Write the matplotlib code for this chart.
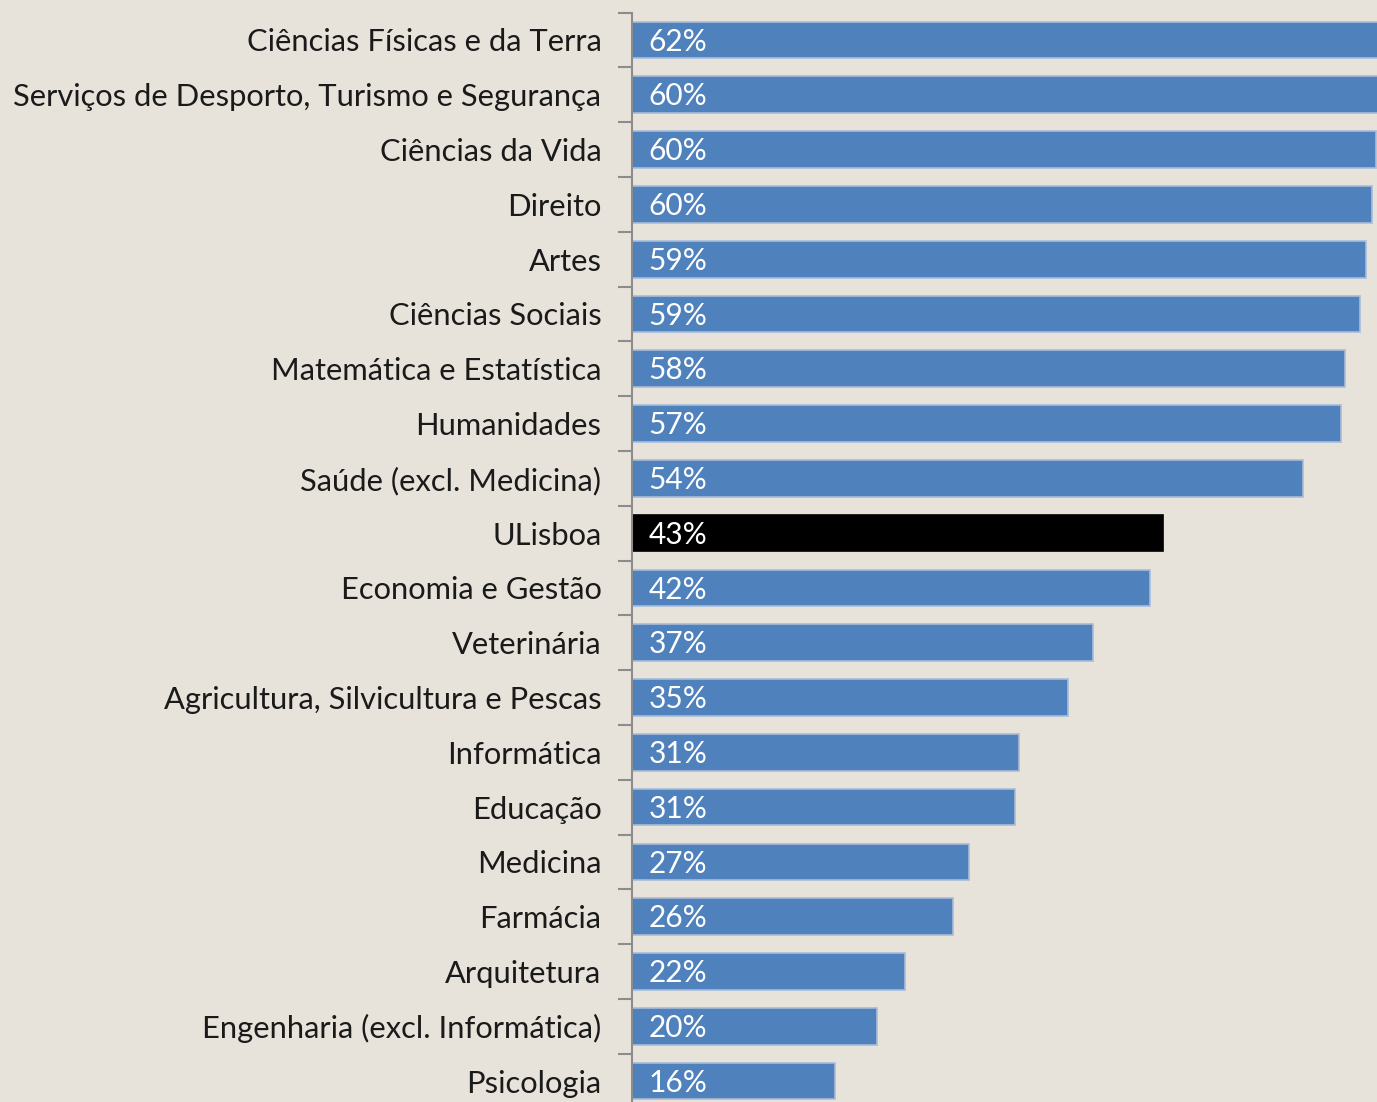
import numpy as np
import matplotlib.pyplot as plt

# categories, top to bottom
areas = ["Ciências Físicas e da Terra", "Serviços de Desporto, Turismo e Segurança",
         "Ciências da Vida", "Direito", "Artes", "Ciências Sociais",
         "Matemática e Estatística", "Humanidades", "Saúde (excl. Medicina)",
         "ULisboa", "Economia e Gestão", "Veterinária",
         "Agricultura, Silvicultura e Pescas", "Informática", "Educação",
         "Medicina", "Farmácia", "Arquitetura", "Engenharia (excl. Informática)",
         "Psicologia"]
values = [62.0, 60.5, 60.2, 59.9, 59.4, 58.9, 57.7, 57.4, 54.3, 43.0,
          41.9, 37.3, 35.3, 31.3, 31.0, 27.3, 26.0, 22.1, 19.8, 16.4]
labels = ["62%", "60%", "60%", "60%", "59%", "59%", "58%", "57%", "54%", "43%",
          "42%", "37%", "35%", "31%", "31%", "27%", "26%", "22%", "20%", "16%"]

bg = "#E7E2DA"
blue = "#4F81BD"

fig = plt.figure(figsize=(13.77, 11.02), dpi=100, facecolor=bg)
ax = fig.add_axes([0.459, -0.0059, 0.541, 0.9945], facecolor=bg)

y = np.arange(len(areas))
colors = ["black" if a == "ULisboa" else blue for a in areas]
edges = ["black" if a == "ULisboa" else "#A8BCD8" for a in areas]
ax.barh(y, values, height=0.67, color=colors, edgecolor=edges, linewidth=1.2)

for yi, lab in zip(y, labels):
    ax.text(1.35, yi + 0.03, lab, color="white", fontsize=21.5, family="Lato",
            va="center", ha="left")

ax.set_xlim(0, 60.3)
ax.set_ylim(len(areas) - 0.5, -0.5)
ax.set_yticks(y)
ax.set_yticklabels(areas, fontsize=22.2, family="Lato", color="#1a1a1a")
ax.tick_params(axis="y", length=0, pad=22)
ax.set_yticks(np.arange(-0.5, len(areas), 1), minor=True)
ax.tick_params(axis="y", which="minor", length=10, width=1.5, color="#8C8C8C")
ax.set_xticks([])
for s in ["top", "right", "bottom"]:
    ax.spines[s].set_visible(False)
ax.spines["left"].set_color("#8C8C8C")
ax.spines["left"].set_linewidth(1.5)

fig.savefig("out.png", dpi=100, facecolor=bg)
